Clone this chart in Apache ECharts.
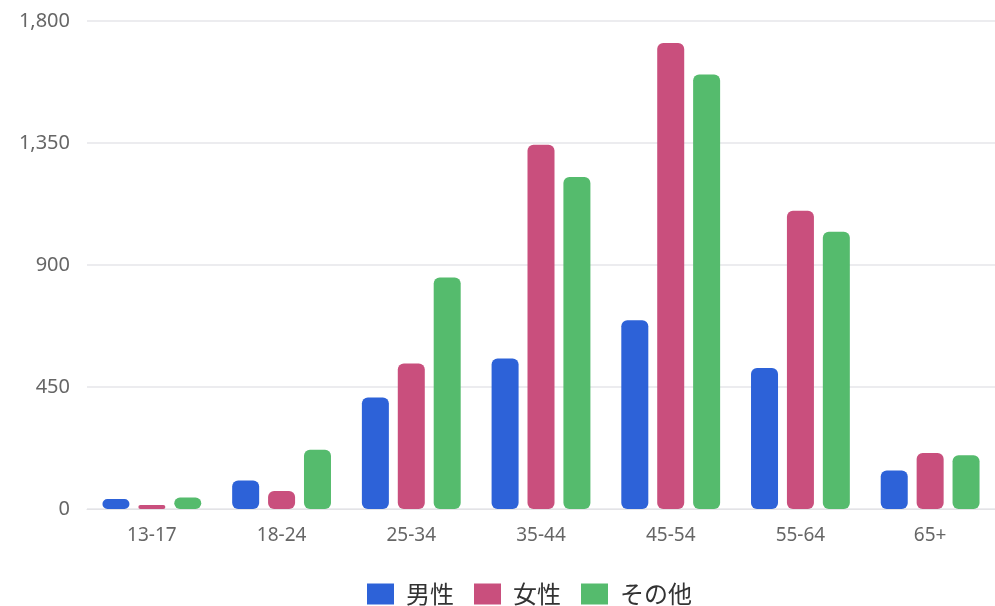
<!DOCTYPE html>
<html><head><meta charset="utf-8">
<script src="https://cdn.jsdelivr.net/npm/echarts@6/dist/echarts.min.js"></script>
<style>html,body{margin:0;padding:0;background:#fff}#c{width:995px;height:606px}</style>
</head><body><div id="c"></div>
<script>
const categories = ['13-17','18-24','25-34','35-44','45-54','55-64','65+'];
const male   = [37, 105, 411, 555, 696, 520, 142];
const female = [15, 66, 537, 1344, 1719, 1100, 207];
const other  = [42, 219, 854, 1225, 1603, 1023, 198];
const seriesNames = ['男性','女性','その他'];
const colors = ['#2d62d8','#c94f7d','#55bb6d'];

const chart = echarts.init(document.getElementById('c'));
const mk = (name, data, color) => ({
  name, type:'bar', data, barWidth:27, barGap:'33%',
  itemStyle:{color, borderRadius:6}
});
chart.setOption({
  animation:false,
  color: colors,
  grid:{left:87, right:0, top:21, bottom:97},
  legend:{top:582, left:367, itemWidth:27, itemHeight:21, itemGap:20, padding:0,
    icon:'rect',
    textStyle:{fontSize:24, lineHeight:22, color:'#333', padding:[0,0,0,7], fontFamily:'"Noto Sans CJK JP", sans-serif'},
    data: seriesNames},
  xAxis:{type:'category', data:categories,
    axisLine:{lineStyle:{color:'#e3e3e6'}}, axisTick:{show:false},
    axisLabel:{color:'#666', fontSize:19, margin:17, fontFamily:'"Noto Sans", sans-serif'}},
  yAxis:{type:'value', min:0, max:1800, interval:450,
    axisLabel:{color:'#666', fontSize:20, margin:17, fontFamily:'"Noto Sans", sans-serif',
      formatter: v => v.toLocaleString('en-US')},
    splitLine:{lineStyle:{color:'#e6e6ea', width:1.5}}},
  series:[mk(seriesNames[0], male, colors[0]), mk(seriesNames[1], female, colors[1]), mk(seriesNames[2], other, colors[2])]
});
</script></body></html>
